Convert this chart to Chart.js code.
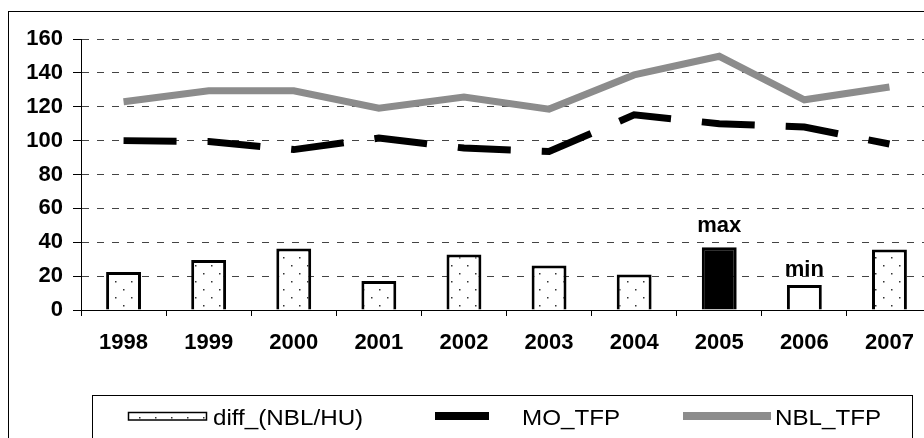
<!DOCTYPE html>
<html>
<head>
<meta charset="utf-8">
<script src="https://cdn.jsdelivr.net/npm/chart.js@4/dist/chart.umd.min.js"></script>
<style>
html, body { margin: 0; padding: 0; background: #fff; overflow: hidden; }
#wrap { width: 924px; height: 438px; overflow: hidden; position: relative; }
#c { position: absolute; left: 0; top: 0; }
</style>
</head>
<body>
<div id="wrap"><canvas id="c" width="950" height="438" style="width:950px;height:438px"></canvas></div>
<script>
// ---- data ----
const years = ['1998', '1999', '2000', '2001', '2002', '2003', '2004', '2005', '2006', '2007'];
const diffNblHu = [22.5, 29.5, 36.3, 17.1, 32.8, 26.3, 21.0, 37.1, 14.7, 35.7];
const moTfp = [100, 99.5, 94.7, 101.5, 95.6, 93.6, 115.2, 110, 108, 98];
const nblTfp = [123, 129.4, 129.4, 119.2, 125.7, 118.6, 138.8, 149.8, 124.1, 131.7];
const seriesNames = ['diff_(NBL/HU)', 'MO_TFP', 'NBL_TFP'];
const yMin = 0, yMax = 160, yStep = 20;
const maxLabel = 'max', minLabel = 'min';

// ---- styling helpers ----
const FONT = "'Liberation Sans', Arial, sans-serif";
function makeDots() {
  const t = document.createElement('canvas');
  t.width = 16; t.height = 16;
  const g = t.getContext('2d');
  g.fillStyle = '#fff'; g.fillRect(0, 0, 16, 16);
  g.fillStyle = '#333';
  g.fillRect(3, 9, 1.5, 1.5);
  g.fillRect(11, 1, 1.5, 1.5);
  return g.createPattern(t, 'repeat');
}
const dots = makeDots();
const iMax = diffNblHu.indexOf(Math.max(...diffNblHu));
const iMin = diffNblHu.indexOf(Math.min(...diffNblHu));
const barFills = diffNblHu.map((v, i) => i === iMax ? '#000' : (i === iMin ? '#fff' : dots));

const frame = {
  id: 'frame',
  beforeDraw(chart) {
    const ctx = chart.ctx;
    ctx.save();
    ctx.fillStyle = '#fff';
    ctx.fillRect(0, 0, chart.width, chart.height);
    ctx.restore();
  },
  afterDraw(chart) {
    const ctx = chart.ctx;
    ctx.save();
    ctx.strokeStyle = '#000';
    ctx.lineWidth = 1;
    ctx.strokeRect(8.5, 11.5, chart.width + 20, chart.height + 20);
    // legend box
    ctx.strokeRect(92.5, 395.5, 820, 80);
    const base = 425;
    // bar sample
    ctx.fillStyle = dots;
    ctx.fillRect(128, 412, 79, 8);
    ctx.lineWidth = 1.5;
    ctx.strokeRect(128.5, 412.5, 78, 7.5);
    // line samples
    ctx.fillStyle = '#000';
    ctx.fillRect(435, 412, 54, 8);
    ctx.fillStyle = '#8c8c8c';
    ctx.fillRect(683, 412, 88, 8);
    ctx.fillStyle = '#000';
    ctx.font = '22px ' + FONT;
    ctx.textBaseline = 'alphabetic';
    ctx.textAlign = 'left';
    const items = [[213, chart.data.datasets[0].label], [522, chart.data.datasets[1].label], [775, chart.data.datasets[2].label]];
    items.forEach(([x, txt]) => {
      ctx.save();
      ctx.translate(x, base);
      ctx.scale(1.1, 1);
      ctx.fillText(txt, 0, 0);
      ctx.restore();
    });
    ctx.restore();
  },
  afterDatasetsDraw(chart) {
    const ctx = chart.ctx;
    const meta = chart.getDatasetMeta(0);
    ctx.save();
    ctx.fillStyle = '#000';
    ctx.font = 'bold 22px ' + FONT;
    ctx.textAlign = 'center';
    ctx.textBaseline = 'alphabetic';
    const a = meta.data[iMax], b = meta.data[iMin];
    ctx.fillText(maxLabel, a.x, a.y - 15);
    ctx.fillText(minLabel, b.x, b.y - 9);
    ctx.restore();
  }
};

new Chart(document.getElementById('c'), {
  type: 'bar',
  data: {
    labels: years,
    datasets: [
      {
        type: 'bar', label: seriesNames[0], data: diffNblHu,
        backgroundColor: barFills, borderColor: '#000', borderWidth: 3,
        categoryPercentage: 1, barPercentage: 0.41, order: 3
      },
      {
        type: 'line', label: seriesNames[1], data: moTfp,
        borderColor: '#000', borderWidth: 7, borderDash: [53, 31],
        borderCapStyle: 'butt', borderJoinStyle: 'miter',
        pointRadius: 0, tension: 0, fill: false, order: 1
      },
      {
        type: 'line', label: seriesNames[2], data: nblTfp,
        borderColor: '#8c8c8c', borderWidth: 7,
        borderCapStyle: 'butt', borderJoinStyle: 'miter',
        pointRadius: 0, tension: 0, fill: false, order: 2
      }
    ]
  },
  options: {
    responsive: false,
    animation: false,
    devicePixelRatio: 1,
    layout: { padding: { left: 0, top: 39, right: 18, bottom: 87 } },
    plugins: { legend: { display: false }, tooltip: { enabled: false } },
    scales: {
      x: {
        offset: true,
        grid: { display: true, offset: true, drawOnChartArea: false, drawTicks: true, tickLength: 6, tickColor: '#000', color: '#000' },
        border: { display: true, color: '#000', width: 1 },
        ticks: { color: '#000', font: { family: FONT, size: 22, weight: 'bold' }, padding: 14, maxRotation: 0, autoSkip: false },
        afterFit(s) { s.height = 41; }
      },
      y: {
        min: yMin, max: yMax,
        grid: { color: '#444', lineWidth: 1, drawTicks: true, tickLength: 8, tickColor: '#000', tickBorderDash: [] },
        border: { display: true, color: '#000', width: 1, dash: [7, 8] },
        ticks: { stepSize: yStep, color: '#000', font: { family: FONT, size: 22, weight: 'bold' }, padding: 10 },
        afterFit(s) { s.width = 81; }
      }
    }
  },
  plugins: [frame]
});
</script>
</body>
</html>
